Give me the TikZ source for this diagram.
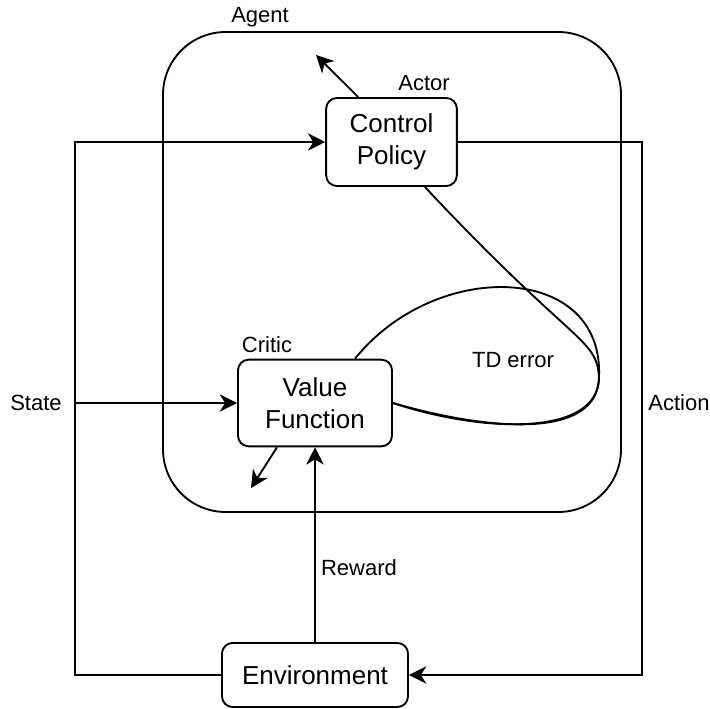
\documentclass[tikz,border=0pt]{standalone}
\usepackage{fontspec}
\setmainfont{Liberation Sans}
\usetikzlibrary{calc,arrows.meta}

\begin{document}
\begin{tikzpicture}[x=0.75pt, y=0.75pt,
    box/.style={draw, line width=1.4pt, rounded corners=8pt, align=center, inner sep=0pt, font=\fontsize{19.5}{24}\selectfont},
    lbl/.style={inner sep=1pt, font=\fontsize{16.5}{20}\selectfont},
    flow/.style={line width=1.4pt, -{Stealth[length=13pt, width=13pt, inset=4pt]}}]
    \useasboundingbox (0,0) rectangle (710,708);
    % agent frame
    \draw[line width=1.4pt, rounded corners=47pt] (163,196) rectangle (621,676);
    \node[lbl] (agent) at (260,691) {Agent};
    % blocks
    \node[box, minimum width=98pt, minimum height=66pt] (cp) at (391.5,566) {Control\\Policy};
    \node[box, minimum width=115.5pt, minimum height=65pt] (vf) at (315,305) {Value\\Function};
    \node[box, minimum width=139.5pt, minimum height=48pt] (env) at (315,33) {Environment};
    \node[lbl] (actor) at (424,625) {Actor};
    \node[lbl] (critic) at (267,363) {Critic};
    % loop lines
    \coordinate (loopl) at (75,0);
    \coordinate (loopr) at (642,0);
    \draw[flow] (env.west) -- (env.west -| loopl) |- (cp.west);
    \draw[flow] (vf.west -| loopl) -- (vf.west);
    \node[lbl] (state) at (36,305) {State};
    \draw[flow] (cp.east) -- (cp.east -| loopr) |- (env.east);
    \node[lbl] (action) at (679,305) {Action};
    \draw[flow] (env) -- (vf);
    \node[lbl] (reward) at (359,140) {Reward};
    % outputs
    \coordinate (actout) at (316,653);
    \coordinate (critout) at (251,220);
    \draw[flow] ([xshift=-25pt]cp.north) -- (actout);
    \draw[flow] ([xshift=-28.5pt]vf.south) -- (critout);
    % td error
    \coordinate (tdtip) at (599,331);
    \draw[line width=1.4pt] ([xshift=25pt]cp.south) .. controls +(150,-160) and +(-3,40) .. (tdtip) .. controls +(0,-60) and +(90,-30) .. (vf.east);
    \draw[line width=1.4pt] ([xshift=30pt]vf.north) .. controls +(80,100) and +(5,115) .. (tdtip) .. controls +(-1,-64) and +(93,-27) .. (vf.east);
    \node[lbl] (td) at (513,348) {TD error};
\end{tikzpicture}
\end{document}
